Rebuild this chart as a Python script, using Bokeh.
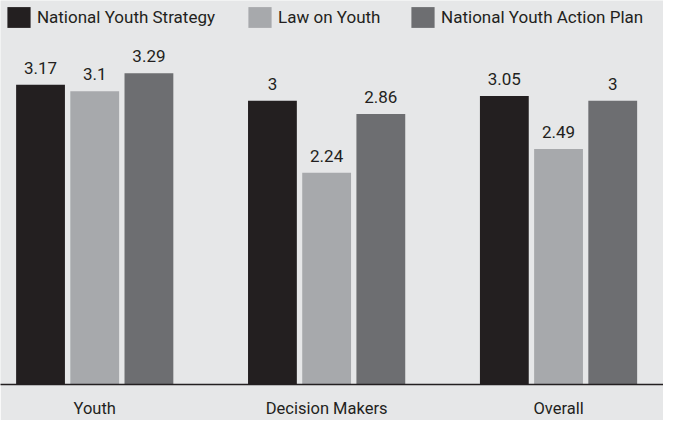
from bokeh.plotting import figure
from bokeh.models import ColumnDataSource, Range1d, FixedTicker, Legend, LegendItem
from bokeh.transform import dodge
from bokeh.core.properties import value
from bokeh.embed import file_html
from bokeh.resources import INLINE

# ---- data ----
categories = ["Youth", "Decision Makers", "Overall"]
series_names = ["National Youth Strategy", "Law on Youth", "National Youth Action Plan"]
national_youth_strategy = [3.17, 3.0, 3.05]
law_on_youth = [3.1, 2.24, 2.49]
national_youth_action_plan = [3.29, 2.86, 3.0]

colors = ["#231f20", "#a7a9ac", "#6d6e71"]
BG = "#e6e7e8"
TXT = "#231f20"
FONT = "Roboto"

xs = list(range(len(categories)))
src = ColumnDataSource(dict(
    x=xs,
    s0=national_youth_strategy,
    s1=law_on_youth,
    s2=national_youth_action_plan,
    l0=[f"{v:g}" for v in national_youth_strategy],
    l1=[f"{v:g}" for v in law_on_youth],
    l2=[f"{v:g}" for v in national_youth_action_plan],
))

p = figure(width=663, height=420, output_backend="svg", toolbar_location=None,
           x_range=Range1d(-0.4063, 2.4526), y_range=Range1d(0, 4.06),
           min_border_left=0, min_border_right=0, min_border_top=0, min_border_bottom=29)
p.background_fill_color = BG
p.border_fill_color = BG
p.outline_line_color = None
p.xgrid.visible = False
p.ygrid.visible = False
p.yaxis.visible = False

offsets = [-0.2337, 0.0, 0.2337]
bw = 0.2105
renderers = []
for i in range(3):
    r = p.vbar(x=dodge("x", offsets[i]), top=f"s{i}", width=bw, bottom=0, source=src,
               fill_color=colors[i], line_color=None)
    renderers.append(r)
    p.text(x=dodge("x", offsets[i]), y=f"s{i}", text=f"l{i}", source=src,
           text_align="center", text_baseline="bottom", y_offset=-11,
           text_font=value(FONT), text_font_size="17px", text_color=TXT)

xa = p.xaxis[0]
xa.ticker = FixedTicker(ticks=xs)
xa.major_label_overrides = {i: c for i, c in zip(xs, categories)}
xa.major_tick_line_color = None
xa.minor_tick_line_color = None
xa.axis_line_color = TXT
xa.axis_line_width = 1.6
xa.major_label_standoff = 8
xa.major_label_text_font = FONT
xa.major_label_text_font_size = "16.5px"
xa.major_label_text_color = TXT

# legends, one per item
frame_h = 420 - 29
leg_x = [3.9, 245.1, 408.1]
for i in range(3):
    lg = Legend(items=[LegendItem(label=series_names[i], renderers=[renderers[i]])],
                location=(leg_x[i], frame_h - 37),
                orientation="horizontal",
                glyph_width=29, glyph_height=26, label_standoff=4,
                padding=0, margin=0, spacing=0,
                border_line_color=None, background_fill_alpha=0,
                label_text_font=FONT, label_text_font_size="17px",
                label_text_color=TXT)
    p.add_layout(lg)

open("out.html", "w").write(file_html(p, INLINE))
